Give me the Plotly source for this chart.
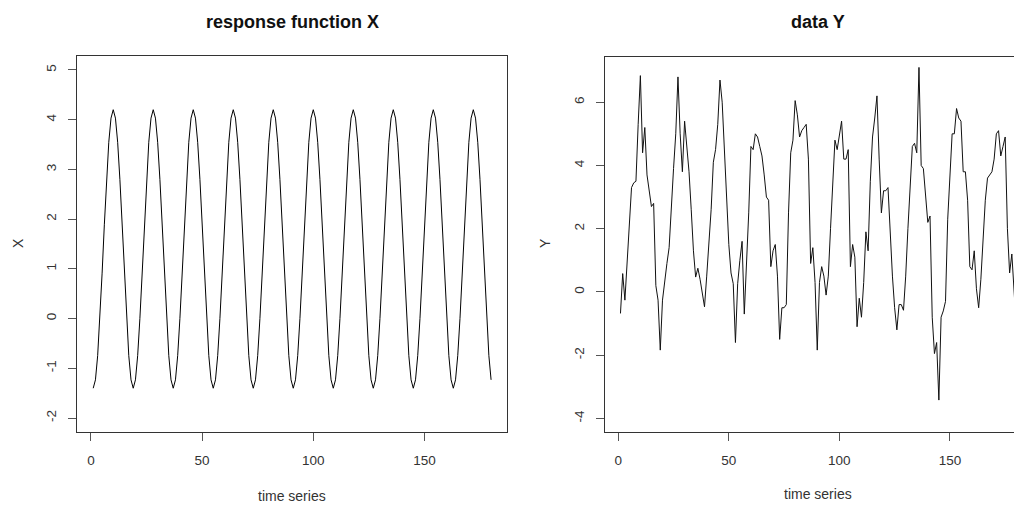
import plotly.graph_objects as go

# ---- data ----
time_index = list(range(1, 181))

response_x = [
    -1.4, -1.231, -0.745, 0.0, 0.914, 1.886, 2.8, 3.545, 4.031, 4.2, 4.031, 3.545, 2.8, 1.886, 0.914, 0.0, -0.745, -1.231,
    -1.4, -1.231, -0.745, 0.0, 0.914, 1.886, 2.8, 3.545, 4.031, 4.2, 4.031, 3.545, 2.8, 1.886, 0.914, 0.0, -0.745, -1.231,
    -1.4, -1.231, -0.745, 0.0, 0.914, 1.886, 2.8, 3.545, 4.031, 4.2, 4.031, 3.545, 2.8, 1.886, 0.914, 0.0, -0.745, -1.231,
    -1.4, -1.231, -0.745, 0.0, 0.914, 1.886, 2.8, 3.545, 4.031, 4.2, 4.031, 3.545, 2.8, 1.886, 0.914, 0.0, -0.745, -1.231,
    -1.4, -1.231, -0.745, 0.0, 0.914, 1.886, 2.8, 3.545, 4.031, 4.2, 4.031, 3.545, 2.8, 1.886, 0.914, 0.0, -0.745, -1.231,
    -1.4, -1.231, -0.745, 0.0, 0.914, 1.886, 2.8, 3.545, 4.031, 4.2, 4.031, 3.545, 2.8, 1.886, 0.914, 0.0, -0.745, -1.231,
    -1.4, -1.231, -0.745, 0.0, 0.914, 1.886, 2.8, 3.545, 4.031, 4.2, 4.031, 3.545, 2.8, 1.886, 0.914, 0.0, -0.745, -1.231,
    -1.4, -1.231, -0.745, 0.0, 0.914, 1.886, 2.8, 3.545, 4.031, 4.2, 4.031, 3.545, 2.8, 1.886, 0.914, 0.0, -0.745, -1.231,
    -1.4, -1.231, -0.745, 0.0, 0.914, 1.886, 2.8, 3.545, 4.031, 4.2, 4.031, 3.545, 2.8, 1.886, 0.914, 0.0, -0.745, -1.231,
    -1.4, -1.231, -0.745, 0.0, 0.914, 1.886, 2.8, 3.545, 4.031, 4.2, 4.031, 3.545, 2.8, 1.886, 0.914, 0.0, -0.745, -1.231,
]

data_y = [
    -0.68, 0.58, -0.26, 0.9, 2.4, 3.3, 3.45, 3.5, 5.3, 6.84,
    4.4, 5.2, 3.7, 3.2, 2.7, 2.8, 0.2, -0.26, -1.84, -0.26,
    0.4, 0.9, 1.4, 2.8, 3.9, 5.0, 6.8, 5.0, 3.8, 5.4,
    4.6, 3.8, 2.6, 1.3, 0.47, 0.75, 0.4, 0.0, -0.47, 0.5,
    1.6, 2.6, 4.1, 4.5, 5.3, 6.7, 6.0, 4.5, 2.9, 1.5,
    0.6, 0.26, -1.6, 0.26, 1.0, 1.6, -0.7, 0.8, 2.5, 4.6,
    4.5, 5.0, 4.9, 4.6, 4.3, 3.7, 3.0, 2.9, 0.8, 1.3,
    1.5, 0.5, -1.5, -0.5, -0.5, -0.4, 2.5, 4.4, 4.8, 6.05,
    5.6, 4.9, 5.1, 5.2, 5.3, 4.2, 0.9, 1.4, 0.3, -1.84,
    0.3, 0.8, 0.5, -0.1, 0.5, 2.0, 3.5, 4.8, 4.5, 5.0,
    5.4, 4.2, 4.2, 4.5, 0.8, 1.5, 1.1, -1.1, -0.2, -0.8,
    0.3, 1.9, 1.3, 3.5, 4.9, 5.5, 6.2, 4.2, 2.5, 3.2,
    3.2, 3.3, 1.8, 0.5, -0.5, -1.2, -0.4, -0.4, -0.58, 0.5,
    2.0, 3.4, 4.6, 4.7, 4.4, 7.1, 4.0, 3.9, 3.1, 2.2,
    2.4, -0.8, -1.95, -1.6, -3.42, -0.8, -0.6, -0.3, 2.3, 3.8,
    5.0, 5.0, 5.8, 5.5, 5.4, 3.8, 3.8, 2.9, 0.8, 0.7,
    1.3, 0.1, -0.5, 0.4, 1.7, 2.9, 3.6, 3.7, 3.8, 4.2,
    5.0, 5.1, 4.3, 4.6, 4.9, 2.0, 0.6, 1.2, 0.2, -1.1,
]

x_ticks = [0, 50, 100, 150]
left_y_ticks = [-2, -1, 0, 1, 2, 3, 4, 5]
right_y_ticks = [-4, -2, 0, 2, 4, 6]

left_title = "response function X"
right_title = "data Y"
x_label = "time series"
left_y_label = "X"
right_y_label = "Y"

# ---- figure ----
# The page body has an 8px default margin, so the figure is drawn 8px in from
# the top-left corner; work in window pixels and convert.
OFF = 8
W, H = 1022 - OFF, 506 - OFF
FONT = "Liberation Sans, Arial, Helvetica, sans-serif"
TXT = "#333333"
AX = "#333333"

fig = go.Figure()
fig.add_trace(go.Scatter(x=time_index, y=response_x, mode="lines",
                         line=dict(color="black", width=1), xaxis="x", yaxis="y",
                         showlegend=False, hoverinfo="skip"))
fig.add_trace(go.Scatter(x=time_index, y=data_y, mode="lines",
                         line=dict(color="#111111", width=1), xaxis="x2", yaxis="y2",
                         showlegend=False, hoverinfo="skip"))

def px_x(p):
    return (p - OFF) / W

def px_y(p):
    return 1 - (p - OFF) / H

common_x = dict(showgrid=False, zeroline=False, showline=True, linecolor=AX, linewidth=1,
                ticks="outside", ticklen=8, tickwidth=1, tickcolor="#555555",
                tickvals=x_ticks, ticktext=[str(v) for v in x_ticks],
                tickfont=dict(family=FONT, size=13.5, color=TXT), ticklabelstandoff=8)
common_y = dict(showgrid=False, zeroline=False, showline=True, linecolor=AX, linewidth=1,
                ticks="outside", ticklen=8, tickwidth=1, tickcolor="#555555",
                tickangle=-90, tickfont=dict(family=FONT, size=13.5, color=TXT),
                ticklabelstandoff=7)

fig.update_layout(
    width=W, height=H, margin=dict(l=0, r=0, t=0, b=0),
    paper_bgcolor="white", plot_bgcolor="white",
    xaxis=dict(domain=[px_x(77.3), px_x(507)], range=[-6.16, 187.16], anchor="y",
               mirror=True, **common_x),
    yaxis=dict(domain=[px_y(432), px_y(56)], range=[-2.28, 5.28], anchor="x",
               mirror=True, tickvals=left_y_ticks, ticktext=[str(v) for v in left_y_ticks],
               **common_y),
    xaxis2=dict(domain=[px_x(605), 1.0], range=[-6.0, 182.6], anchor="y2",
                mirror=True, **common_x),
    yaxis2=dict(domain=[px_y(431.7), px_y(57.3)], range=[-4.42, 7.42], anchor="x2",
                mirror=False, tickvals=right_y_ticks, ticktext=[str(v) for v in right_y_ticks],
                **common_y),
)

def ann(text, x, y, size=14, bold=False, angle=0, color=TXT):
    fig.add_annotation(text=f"<b>{text}</b>" if bold else text,
                       x=px_x(x), y=px_y(y), xref="paper", yref="paper",
                       xanchor="center", yanchor="middle", showarrow=False,
                       textangle=angle, font=dict(family=FONT, size=size, color=color))

ann(left_title, 292, 22, size=18, bold=True, color="#111111")
ann(right_title, 818, 22, size=18, bold=True, color="#111111")
ann(x_label, 292, 496)
ann(x_label, 818, 494)
ann(left_y_label, 18, 243, angle=-90)
ann(right_y_label, 545, 243, angle=-90)

fig.write_html("out.html")
